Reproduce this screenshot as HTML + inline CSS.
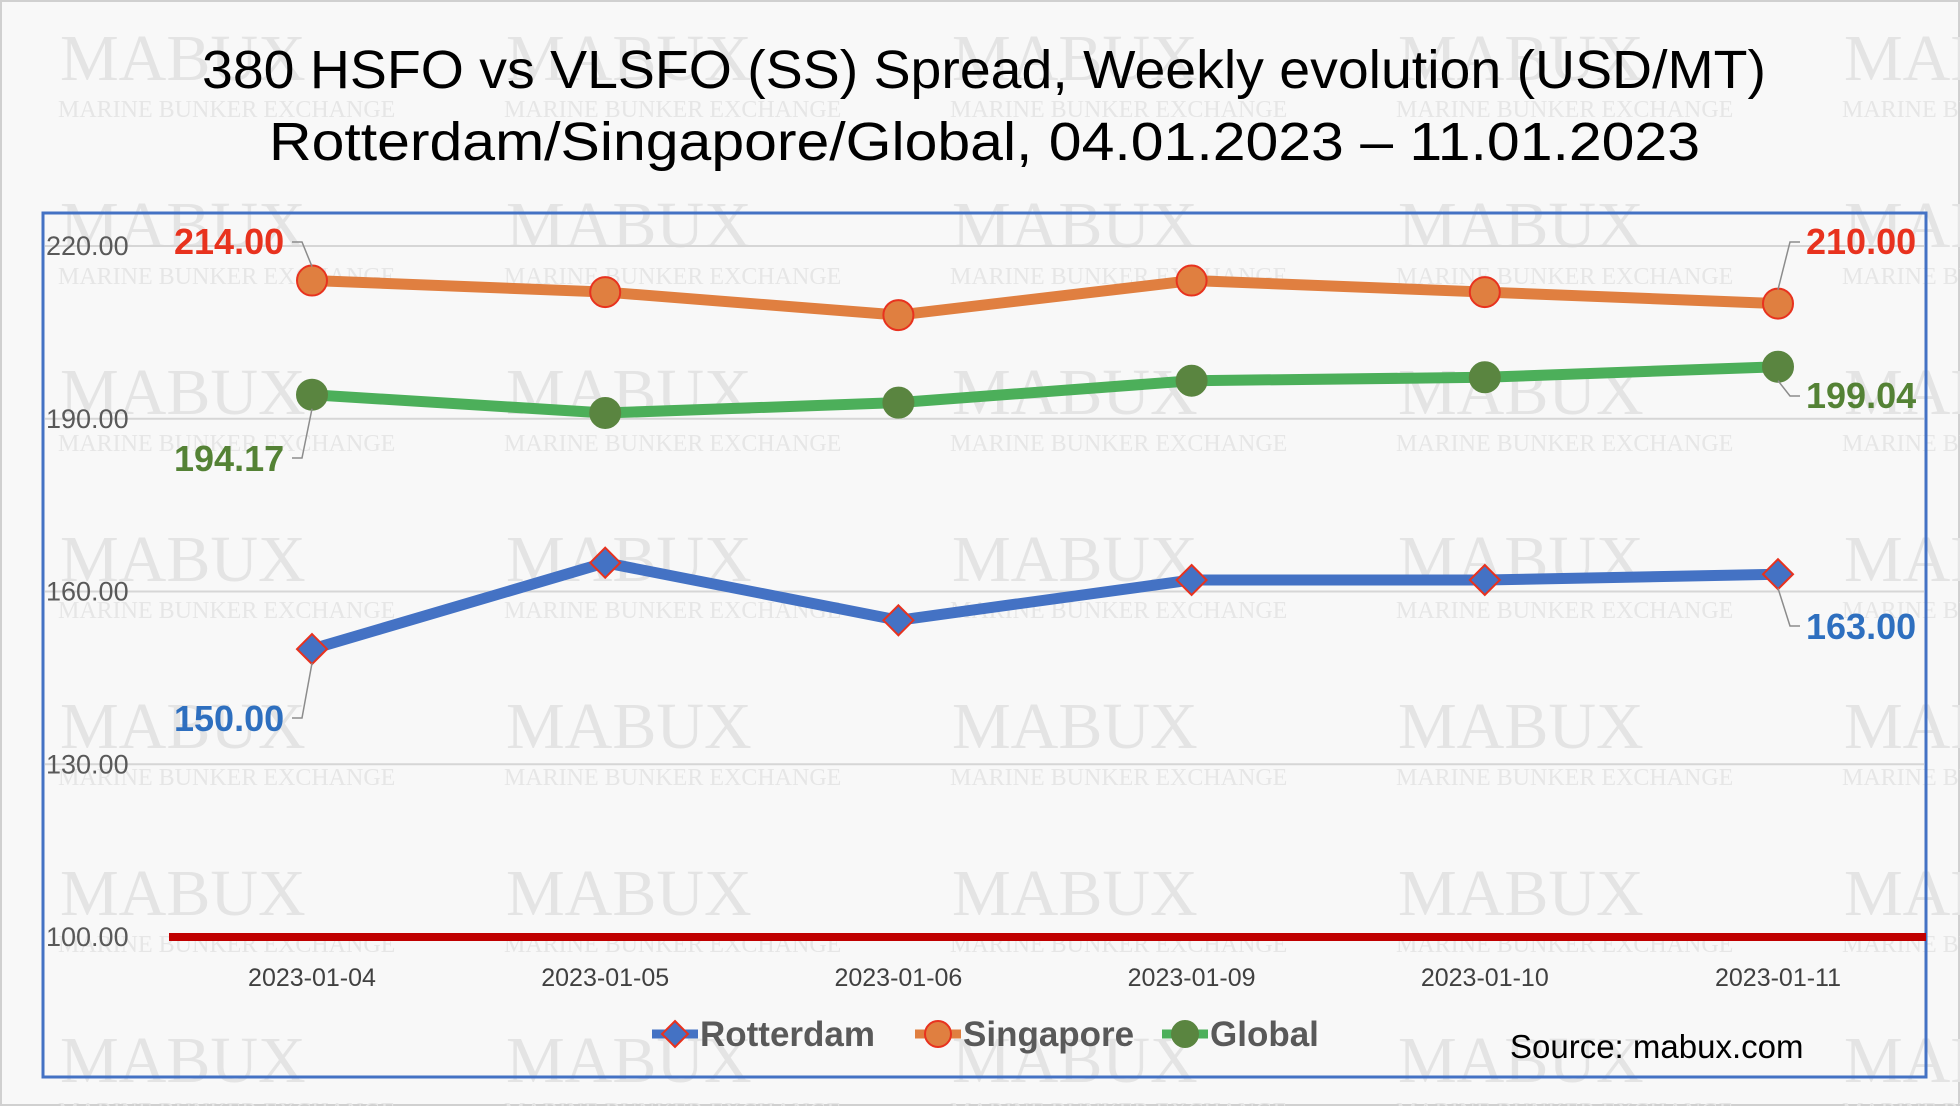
<!DOCTYPE html>
<html><head><meta charset="utf-8"><style>
html,body{margin:0;padding:0;background:#fff}
#wrap{position:relative;width:1960px;height:1106px;background:#f8f8f8;overflow:hidden;font-family:"Liberation Sans",sans-serif}
</style></head><body>
<div id="wrap">
<svg id="svg" width="1960" height="1106" style="position:absolute;left:0;top:0">
<rect x="1" y="1" width="1958" height="1104" fill="none" stroke="#d0d0d0" stroke-width="2"/>
<g id="wm"></g>
<text x="202" y="88" textLength="1564" lengthAdjust="spacingAndGlyphs" font-family="Liberation Sans, sans-serif" font-size="54" fill="#000">380 HSFO vs VLSFO (SS) Spread, Weekly evolution (USD/MT)</text>
<text x="269" y="160" textLength="1431" lengthAdjust="spacingAndGlyphs" font-family="Liberation Sans, sans-serif" font-size="54" fill="#000">Rotterdam/Singapore/Global, 04.01.2023 – 11.01.2023</text>
<rect x="43" y="213" width="1883" height="864" fill="none" stroke="#4472c4" stroke-width="3"/>
<g id="grid"></g><g id="series"></g><g id="labels"></g>
<text x="1510" y="1058" font-family="Liberation Sans, sans-serif" font-size="33" fill="#000">Source: mabux.com</text>
</svg>
</div>
<script>
const categories=["2023-01-04","2023-01-05","2023-01-06","2023-01-09","2023-01-10","2023-01-11"];
const rotterdam=[150,165,155,162,162,163];
const singapore=[214,212,208,214,212,210];
const global=[194.17,191,192.8,196.6,197.2,199.04];
const yTicks=[100,130,160,190,220];
const NS="http://www.w3.org/2000/svg";
const svg=document.getElementById('svg');
function el(tag,attrs,parent){const e=document.createElementNS(NS,tag);for(const k in attrs)e.setAttribute(k,attrs[k]);(parent||svg).appendChild(e);return e;}
const x=i=>312+i*293.2;
const y=v=>937-(v-100)*(937-246)/120;
const wm=document.getElementById('wm');
for(let r=0;r<7;r++)for(let c=0;c<5;c++){
 const t=el('text',{x:60+c*446,y:80+r*167,'font-family':'Liberation Serif, serif','font-size':66,fill:'#e4e4e4'},wm);t.textContent='MABUX';
 
 
 const t2=el('text',{x:58+c*446,y:117+r*167,'font-family':'Liberation Serif, serif','font-size':24,fill:'#e6e6e6'},wm);t2.textContent='MARINE BUNKER EXCHANGE';
 
 
}
const grid=document.getElementById('grid');
yTicks.forEach(v=>{
 if(v>100){const l=el('line',{x1:45,x2:1924,y1:y(v),y2:y(v),stroke:'#d6d6d6','stroke-width':2},grid);
 
 }
 const t=el('text',{x:46,y:y(v)+9,'font-family':'Liberation Sans, sans-serif','font-size':27,fill:'#595959'},grid);t.textContent=v.toFixed(2);
 
 
});
const base=el('line',{x1:169,x2:1926,y1:y(100),y2:y(100),stroke:'#c00000','stroke-width':8},grid);


categories.forEach((c,i)=>{const t=el('text',{x:x(i),y:986,'text-anchor':'middle','font-family':'Liberation Sans, sans-serif','font-size':25,fill:'#404040'},grid);t.textContent=c;
 
 });
const S=document.getElementById('series');
function series(data,color,name,marker,mfill,mstroke){
 const p=el('polyline',{points:data.map((v,i)=>x(i)+','+y(v)).join(' '),fill:'none',stroke:color,'stroke-width':11,'stroke-linejoin':'round'},S);
 
 
 data.forEach((v,i)=>{let m;
  if(marker==='d'){const cx=x(i),cy=y(v),s=15;m=el('polygon',{points:`${cx},${cy-s} ${cx+s},${cy} ${cx},${cy+s} ${cx-s},${cy}`,fill:mfill,stroke:mstroke,'stroke-width':2},S);}
  else m=el('circle',{cx:x(i),cy:y(v),r:15,fill:mfill,stroke:mstroke,'stroke-width':2},S);
  
  });
}
series(singapore,'#e07f40','singapore','c','#e07f40','#e8321e');
series(global,'#4caf5a','global','c','#5a8540','#5a8540');
series(rotterdam,'#4472c4','rotterdam','d','#4472c4','#e8321e');
const L=document.getElementById('labels');
function dl(txt,tx,ty,color,lx1,ly1,lx2,ly2,lx3,ly3,name){
 const pl=el('polyline',{points:`${lx1},${ly1} ${lx2},${ly2} ${lx3},${ly3}`,fill:'none',stroke:'#8c8c8c','stroke-width':1.5},L);
 
 
 const t=el('text',{x:tx,y:ty,'font-family':'Liberation Sans, sans-serif','font-size':36,'font-weight':'bold',fill:color},L);t.textContent=txt;
 
 
}
const n=categories.length-1;
dl(singapore[0].toFixed(2),174,254,'#e8321e',292,242,302,242,x(0),y(singapore[0])-14,'singapore-first-label');
dl(singapore[n].toFixed(2),1806,254,'#e8321e',1800,242,1790,242,x(n),y(singapore[n])-14,'singapore-last-label');
dl(global[0].toFixed(2),174,471,'#548235',292,458,302,458,x(0),y(global[0])+14,'global-first-label');
dl(global[n].toFixed(2),1806,408,'#548235',1800,396,1790,396,x(n),y(global[n])+14,'global-last-label');
dl(rotterdam[0].toFixed(2),174,731,'#2e6fbf',292,718,302,718,x(0),y(rotterdam[0])+14,'rotterdam-first-label');
dl(rotterdam[n].toFixed(2),1806,639,'#2e6fbf',1800,626,1790,626,x(n),y(rotterdam[n])+14,'rotterdam-last-label');
const legend=[['Rotterdam','#4472c4','d',652],['Singapore','#e07f40','c',915],['Global','#4caf5a','c',1162]];
legend.forEach(([nm,col,mk,lx])=>{
 const g=el('g',{},S);
 
 
 el('line',{x1:lx,x2:lx+46,y1:1034,y2:1034,stroke:col,'stroke-width':9},g);
 const cx=lx+23,cy=1034;
 if(mk==='d')el('polygon',{points:`${cx},${cy-13} ${cx+13},${cy} ${cx},${cy+13} ${cx-13},${cy}`,fill:col,stroke:'#e8321e','stroke-width':2},g);
 else el('circle',{cx,cy,r:13,fill:nm==='Global'?'#5a8540':col,stroke:nm==='Global'?'#5a8540':'#e8321e','stroke-width':2},g);
 const t=el('text',{x:lx+48,y:1046,'font-family':'Liberation Sans, sans-serif','font-size':35,'font-weight':'bold',fill:'#595959'},g);t.textContent=nm;
});
</script>
</body></html>
